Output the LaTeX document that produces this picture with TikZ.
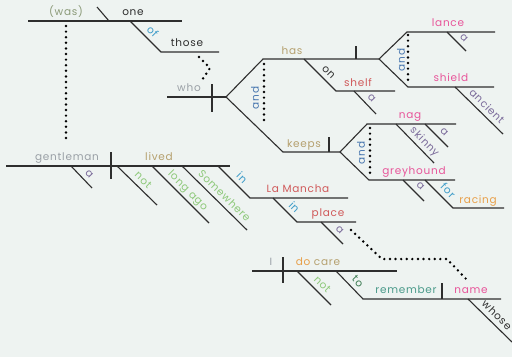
\documentclass[tikz,border=0pt]{standalone}
\usepackage{fontspec}
\setmainfont{Poppins}[LetterSpace=7]
\usetikzlibrary{calc}
\definecolor{diagbg}{HTML}{EEF3F1}
\definecolor{wasgreen}{HTML}{8B9A78}
\definecolor{inkgray}{HTML}{2E2E2E}
\definecolor{prepblue}{HTML}{3A9AC8}
\definecolor{subjgray}{HTML}{9AA0A6}
\definecolor{conjblue}{HTML}{4A78B0}
\definecolor{verbtan}{HTML}{B5A06E}
\definecolor{nounred}{HTML}{D0595A}
\definecolor{objpink}{HTML}{E8559A}
\definecolor{adjpurple}{HTML}{7A6A9A}
\definecolor{advgreen}{HTML}{8CC878}
\definecolor{gerorange}{HTML}{E8A04A}
\definecolor{todarkgreen}{HTML}{3A7A50}
\definecolor{infteal}{HTML}{4A9A8A}

\begin{document}
\begin{tikzpicture}[
    x=1pt, y=-1pt,
    rule/.style={
        line width=1.1pt,
        inkgray
    },
    dots/.style={
        line width=2.7pt,
        dash pattern=on 0pt off 5.6pt,
        line cap=round,
        black
    },
    word/.style={
        anchor=base,
        inner sep=0pt,
        font=\fontsize{10.5}{12}\selectfont,
        text=#1
    },
    mod/.style={
        midway,
        sloped,
        above,
        inner sep=4.4pt,
        text depth=0pt,
        font=\fontsize{10.5}{12}\selectfont,
        text=#1
    },
    conj/.style={
        rotate=90,
        inner sep=0pt,
        font=\fontsize{10.5}{12}\selectfont,
        text=conjblue
    }
]

% Canvas
\fill[diagbg] (0,0) rectangle (512,357);
\useasboundingbox (0,0) rectangle (512,357);

% Key points
\coordinate (wasL) at (28,21);
\coordinate (wasR) at (182,21);
\coordinate (one) at (130,21);
\coordinate (thoseL) at (161,52);
\coordinate (thoseR) at (219,52);
\coordinate (whoL) at (167,97);
\coordinate (fork1) at (226,97);
\coordinate (hasL) at (263,59);
\coordinate (fork2) at (379,59);
\coordinate (keepsL) at (283,152);
\coordinate (fork3) at (340,152);
\coordinate (lanceL) at (407,32);
\coordinate (lanceR) at (495,32);
\coordinate (shieldL) at (408,87);
\coordinate (shieldR) at (494,87);
\coordinate (shelfL) at (336,91);
\coordinate (shelfR) at (395,91);
\coordinate (nagL) at (367,124);
\coordinate (nagR) at (456,124);
\coordinate (greyL) at (369,180);
\coordinate (greyR) at (455,180);
\coordinate (racingL) at (453,208);
\coordinate (racingR) at (504,208);
\coordinate (gentL) at (6,166);
\coordinate (gentR) at (230,166);
\coordinate (manchaL) at (250,198);
\coordinate (manchaR) at (348,198);
\coordinate (placeL) at (297,222);
\coordinate (placeR) at (356,222);
\coordinate (iL) at (252,271);
\coordinate (iR) at (397,271);
\coordinate (rememberL) at (363,299);
\coordinate (rememberR) at (501,299);

% Main clause: (was) one
\draw[rule] (wasL) -- (wasR);
\draw[rule] (97,7) -- (109,21);
\node[word=wasgreen] (was) at (66,15) {(was)};
\node[word=inkgray] (onew) at (133,15) {one};
\draw[rule] (one) -- node[mod=prepblue, pos=0.53] (of) {of} (thoseL) -- (thoseR);
\node[word=inkgray] (those) at (187,46) {those};
\draw[dots] (199,57) -- (210,68) -- (202,80);

% Relative clause: who has ... and keeps ...
\draw[rule] (whoL) -- (fork1);
\draw[rule] (212,84) -- (212,112);
\node[word=subjgray] (who) at (189,91) {who};
\draw[rule] (fork1) -- (hasL) -- (fork2);
\draw[rule] (fork1) -- (keepsL) -- (fork3);
\node[conj] (and1) at (255,98) {and};
\draw[dots] (264,64) -- (264,124);

% has lance and shield on shelf
\node[word=verbtan] (has) at (292,54) {has};
\draw[rule] (356,46) -- (356,59);
\draw[rule] (304,59) -- node[mod=inkgray, pos=0.59] (on) {on} (shelfL) -- (shelfR);
\node[word=nounred] (shelf) at (358,86) {shelf};
\draw[rule] (354,91) -- node[mod=adjpurple, pos=0.55] (a1) {a} (376,114);
\draw[rule] (fork2) -- (lanceL) -- (lanceR);
\draw[rule] (fork2) -- (shieldL) -- (shieldR);
\node[conj] (and2) at (401,60) {and};
\draw[dots] (408,35) -- (408,80);
\node[word=objpink] (lance) at (448,26) {lance};
\draw[rule] (447,32) -- node[mod=adjpurple, pos=0.6] (a2) {a} (466,51);
\node[word=objpink] (shield) at (451,81) {shield};
\draw[rule] (455,87) -- node[mod=adjpurple, pos=0.54] (ancient) {ancient} (503,134);

% keeps nag and greyhound
\node[word=verbtan] (keeps) at (304,147) {keeps};
\draw[rule] (329,137) -- (329,152);
\draw[rule] (fork3) -- (nagL) -- (nagR);
\draw[rule] (fork3) -- (greyL) -- (greyR);
\node[conj] (and3) at (361,153) {and};
\draw[dots] (370,128) -- (370,175);
\node[word=objpink] (nag) at (410,118) {nag};
\draw[rule] (396,124) -- node[mod=adjpurple, pos=0.6] (skinny) {skinny} (434,163);
\draw[rule] (425,124) -- node[mod=adjpurple, pos=0.59] (a3) {a} (448,147);
\node[word=objpink] (grey) at (414,174) {greyhound};
\draw[rule] (403,180) -- node[mod=adjpurple, pos=0.57] (a4) {a} (424,201);
\draw[rule] (425,180) -- node[mod=prepblue, pos=0.6] (for) {for} (racingL) -- (racingR);
\node[word=gerorange] (racing) at (478,203) {racing};

% gentleman lived
\draw[dots] (66,26) -- (66,143);
\draw[rule] (gentL) -- (gentR);
\draw[rule] (111,152) -- (111,179);
\node[word=subjgray] (gent) at (67,160) {gentleman};
\node[word=verbtan] (lived) at (159,160) {lived};
\draw[rule] (71,166) -- node[mod=adjpurple, pos=0.6] (a5) {a} (92,188);
\draw[rule] (117,166) -- node[mod=advgreen, pos=0.51] (not1) {not} (157,205);
\draw[rule] (152,166) -- node[mod=advgreen, pos=0.53] (longago) {long ago} (209,223);
\draw[rule] (182,166) -- node[mod=advgreen, pos=0.56] (somewhere) {Somewhere} (247,230);
\draw[rule] (218,166) -- node[mod=prepblue, pos=0.56] (in1) {in} (manchaL) -- (manchaR);
\node[word=nounred] (mancha) at (298,192) {La Mancha};
\draw[rule] (273,198) -- node[mod=prepblue, pos=0.63] (in2) {in} (placeL) -- (placeR);
\node[word=nounred] (place) at (328,216) {place};
\draw[rule] (321,222) -- node[mod=adjpurple, pos=0.6] (a6) {a} (343,244);
\draw[dots] (351,230) -- (382,259) -- (447,259) -- (468,281);

% I do not care to remember
\draw[rule] (iL) -- (iR);
\draw[rule] (283,257) -- (283,283);
\node[word=subjgray] (iw) at (271,265) {I};
\node[word=verbtan] (docare) at (318,265) {{\color{gerorange}do} care};
\draw[rule] (297,271) -- node[mod=advgreen, pos=0.57] (not2) {not} (331,305);
\draw[rule] (336,271) -- node[mod=todarkgreen, pos=0.58] (to) {to} (rememberL) -- (rememberR);
\draw[rule] (442,283) -- (442,299);
\node[word=infteal] (remember) at (406,293) {remember};
\node[word=objpink] (name) at (471,293) {name};
\draw[rule] (468,299) -- node[mod=inkgray, pos=0.52] (whose) {whose} (512,342);

\end{tikzpicture}
\end{document}
